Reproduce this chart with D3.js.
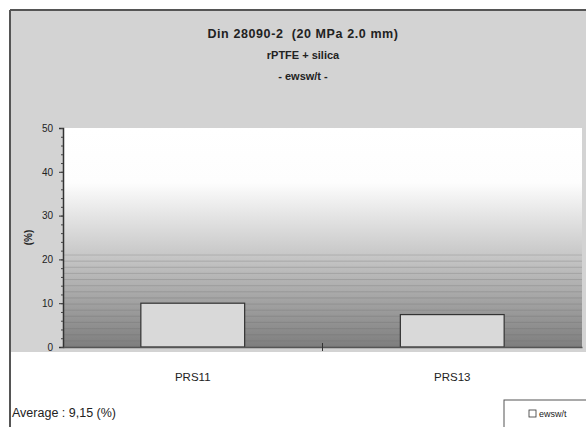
<!DOCTYPE html>
<html lang="en">
<head>
  <meta charset="UTF-8">
  <title>Din 28090-2 ewsw/t</title>
  <script src="https://d3js.org/d3.v7.min.js"></script>
  <style>
    body {
      margin: 0;
      padding: 0;
      background: #fff;
    }
    svg text {
      font-family: "Liberation Sans", Arial, sans-serif;
      fill: #222;
      white-space: pre;
    }
  </style>
</head>
<body>
  <div id="chart"></div>
  <script>
    const categories = ["PRS11", "PRS13"];
    const values = [10.0, 7.4];
    const yTicks = [0, 10, 20, 30, 40, 50];
    const titleLines = ["Din 28090-2  (20 MPa 2.0 mm)", "rPTFE + silica", "- ewsw/t -"];
    const averageLabel = "Average : 9,15 (%)";
    const seriesName = "ewsw/t";

    const width = 586;
    const height = 427;
    const plot = { left: 63, right: 582, top: 128, bottom: 347 };

    const svg = d3.select("#chart")
      .append("svg")
      .attr("width", width)
      .attr("height", height);

    const defs = svg.append("defs");
    const grad = defs.append("linearGradient")
      .attr("id", "plotGrad")
      .attr("x1", 0).attr("y1", 0).attr("x2", 0).attr("y2", 1);
    grad.append("stop").attr("offset", "0%").attr("stop-color", "#ffffff");
    grad.append("stop").attr("offset", "25%").attr("stop-color", "#fdfdfd");
    grad.append("stop").attr("offset", "60%").attr("stop-color", "#c4c4c4");
    grad.append("stop").attr("offset", "100%").attr("stop-color", "#7e7e7e");

    // outer gray chart background
    svg.append("rect")
      .attr("x", 10).attr("y", 10)
      .attr("width", width - 10).attr("height", 342)
      .attr("fill", "#d3d3d3");

    // frame lines
    svg.append("line")
      .attr("x1", 10).attr("x2", width).attr("y1", 10).attr("y2", 10)
      .attr("stroke", "#555").attr("stroke-width", 2);
    svg.append("line")
      .attr("x1", 10).attr("x2", 10).attr("y1", 10).attr("y2", height)
      .attr("stroke", "#555").attr("stroke-width", 2);

    // title
    svg.selectAll(".title")
      .data(titleLines)
      .join("text")
      .attr("class", "title")
      .attr("x", 303)
      .attr("y", (d, i) => 38 + i * 21)
      .attr("text-anchor", "middle")
      .attr("font-size", (d, i) => i === 0 ? 12.5 : 11)
      .attr("font-weight", "bold")
      .attr("letter-spacing", (d, i) => i === 0 ? 0.6 : 0)
      .text(d => d);

    const x = d3.scaleBand()
      .domain(categories)
      .range([plot.left, plot.right])
      .paddingInner(0.6)
      .paddingOuter(0.3);

    const y = d3.scaleLinear()
      .domain([0, 50])
      .range([plot.bottom, plot.top]);

    // plot area
    svg.append("rect")
      .attr("x", plot.left).attr("y", plot.top)
      .attr("width", plot.right - plot.left)
      .attr("height", plot.bottom - plot.top)
      .attr("fill", "url(#plotGrad)");

    // faint horizontal stripes in the lower part (scanned texture)
    svg.append("g")
      .selectAll("line")
      .data(d3.range(0, 22, 1.4))
      .join("line")
      .attr("x1", plot.left).attr("x2", plot.right)
      .attr("y1", d => y(d)).attr("y2", d => y(d))
      .attr("stroke", "#6a6a6a").attr("stroke-opacity", 0.35).attr("stroke-width", 0.8);

    // bars
    svg.append("g")
      .selectAll("rect")
      .data(categories)
      .join("rect")
      .attr("x", d => x(d))
      .attr("y", (d, i) => y(values[i]))
      .attr("width", x.bandwidth())
      .attr("height", (d, i) => y(0) - y(values[i]))
      .attr("fill", "#d9d9d9")
      .attr("stroke", "#333")
      .attr("stroke-width", 1.2);

    // y axis
    const yAxis = svg.append("g")
      .attr("transform", `translate(${plot.left},0)`)
      .call(d3.axisLeft(y).tickValues(yTicks).tickSize(4).tickPadding(6));
    yAxis.select(".domain").attr("stroke", "#333").attr("stroke-width", 1.5);
    yAxis.selectAll(".tick line").attr("stroke", "#333");
    yAxis.selectAll(".tick text")
      .attr("font-size", 10)
      .attr("font-family", "Liberation Sans, Arial, sans-serif")
      .attr("fill", "#222");

    // minor ticks
    svg.append("g")
      .attr("transform", `translate(${plot.left},0)`)
      .call(d3.axisLeft(y).ticks(25).tickSize(2).tickFormat(""))
      .call(g => g.select(".domain").remove())
      .selectAll(".tick line").attr("stroke", "#444");

    // x axis
    const xAxis = svg.append("g")
      .attr("transform", `translate(0,${plot.bottom})`)
      .call(d3.axisBottom(x).tickSize(0).tickPadding(26));
    xAxis.select(".domain").attr("stroke", "#555").attr("stroke-width", 1.5);
    xAxis.selectAll(".tick text")
      .attr("font-size", 11.5)
      .attr("font-family", "Liberation Sans, Arial, sans-serif")
      .attr("fill", "#222");
    // category separator tick
    const sep = (x(categories[0]) + x.bandwidth() + x(categories[1])) / 2;
    svg.append("line")
      .attr("x1", sep).attr("x2", sep)
      .attr("y1", plot.bottom - 4).attr("y2", plot.bottom + 4)
      .attr("stroke", "#333");

    // y label
    svg.append("text")
      .attr("transform", `translate(32,${(plot.top + plot.bottom) / 2}) rotate(-90)`)
      .attr("text-anchor", "middle")
      .attr("font-size", 10)
      .attr("font-weight", "bold")
      .text("(%)");

    // average
    svg.append("text")
      .attr("x", 12).attr("y", 417)
      .attr("font-size", 12.5)
      .text(averageLabel);

    // legend
    const legend = svg.append("g");
    legend.append("rect")
      .attr("x", 504).attr("y", 400)
      .attr("width", 90).attr("height", 40)
      .attr("fill", "#fff")
      .attr("stroke", "#555");
    legend.append("rect")
      .attr("x", 529).attr("y", 410)
      .attr("width", 7).attr("height", 7)
      .attr("fill", "#fff")
      .attr("stroke", "#333")
      .attr("stroke-width", 0.8);
    legend.append("text")
      .attr("x", 539).attr("y", 417)
      .attr("font-size", 9)
      .text(seriesName);
  </script>
</body>
</html>
